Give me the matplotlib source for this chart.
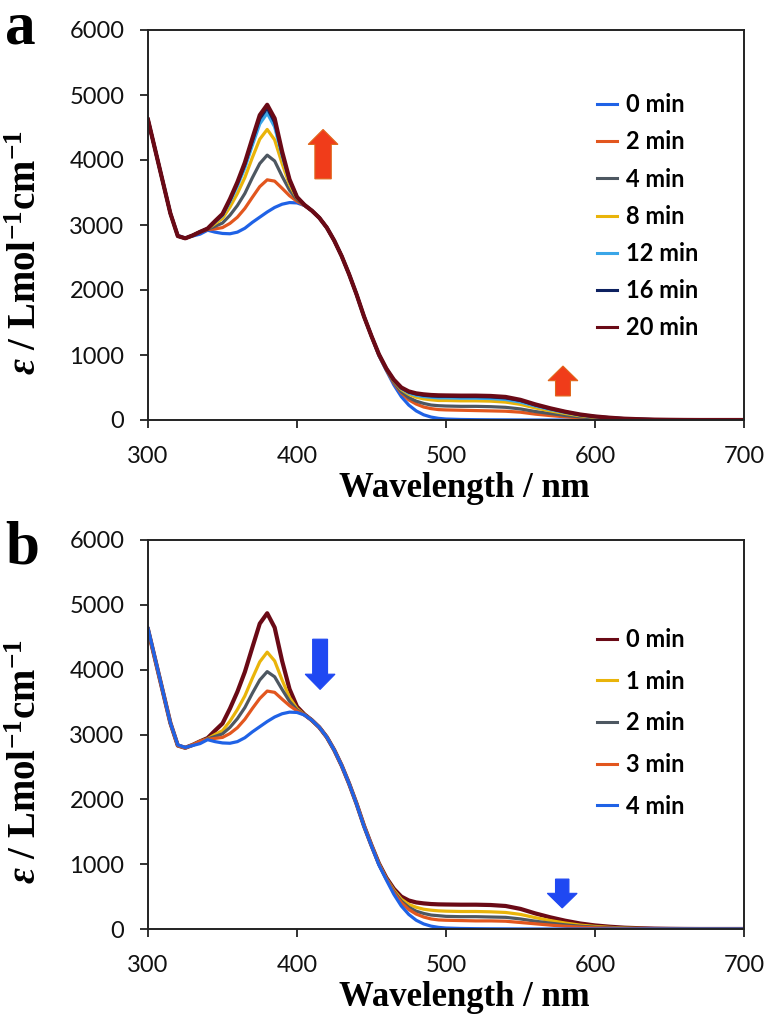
import matplotlib
matplotlib.use("Agg")
import matplotlib.pyplot as plt
from matplotlib.patches import FancyArrow

# ---------------- data ----------------
wavelength = [300, 305, 310, 315, 320, 325, 330, 335, 340, 345, 350, 355, 360, 365, 370, 375,
              380, 385, 390, 395, 400, 405, 410, 415, 420, 425, 430, 435, 440, 445, 450, 455,
              460, 465, 470, 475, 480, 485, 490, 495, 500, 510, 520, 530, 540, 550, 560, 570,
              580, 590, 600, 610, 620, 630, 640, 650, 660, 670, 680, 690, 700]

# panel a (irradiation, increasing)
a_0min = [4620, 4140, 3660, 3180, 2840, 2800, 2830, 2860, 2920, 2890, 2870, 2865, 2890, 2950, 3040, 3120,
          3200, 3270, 3320, 3345, 3340, 3300, 3220, 3110, 2960, 2760, 2520, 2240, 1930, 1590, 1290, 990,
          760, 540, 360, 230, 140, 80, 45, 25, 15, 8, 5, 3, 2, 1, 0, 0,
          0, 0, 0, 0, 0, 0, 0, 0, 0, 0, 0, 0, 0]
a_2min = [4620, 4140, 3660, 3180, 2830, 2795, 2840, 2895, 2930, 2940, 2960, 3025, 3120, 3255, 3425, 3590,
          3695, 3675, 3565, 3450, 3365, 3300, 3220, 3110, 2960, 2760, 2520, 2240, 1930, 1590, 1290, 995,
          770, 570, 415, 310, 245, 200, 175, 160, 155, 150, 145, 140, 135, 120, 90, 68,
          49, 32, 21, 13, 8, 5, 2, 1, 0, 0, 0, 0, 0]
a_4min = [4620, 4140, 3660, 3180, 2830, 2795, 2840, 2895, 2935, 2980, 3030, 3150, 3300, 3485, 3725, 3945,
          4075, 3985, 3750, 3535, 3390, 3305, 3220, 3110, 2960, 2760, 2520, 2240, 1930, 1590, 1290, 1000,
          775, 585, 435, 345, 290, 255, 230, 220, 215, 210, 210, 205, 195, 170, 130, 100,
          70, 47, 30, 19, 11, 7, 3, 2, 1, 0, 0, 0, 0]
a_8min = [4620, 4140, 3660, 3180, 2830, 2795, 2840, 2895, 2940, 3020, 3100, 3275, 3485, 3730, 4035, 4320,
          4470, 4310, 3945, 3620, 3410, 3310, 3220, 3110, 2960, 2760, 2520, 2240, 1930, 1590, 1290, 1005,
          785, 600, 470, 395, 350, 325, 310, 300, 300, 295, 295, 290, 275, 240, 185, 140,
          100, 65, 43, 27, 16, 9, 5, 2, 1, 0, 0, 0, 0]
a_12min = [4620, 4140, 3660, 3180, 2830, 2795, 2840, 2895, 2945, 3045, 3145, 3355, 3600, 3880, 4225, 4555,
           4720, 4510, 4065, 3670, 3425, 3310, 3220, 3110, 2960, 2760, 2520, 2240, 1930, 1590, 1290, 1005,
           785, 610, 485, 415, 380, 360, 350, 340, 340, 335, 335, 330, 315, 275, 215, 160,
           115, 75, 50, 30, 18, 11, 5, 3, 1, 0, 0, 0, 0]
a_16min = [4620, 4140, 3660, 3180, 2830, 2795, 2840, 2895, 2945, 3055, 3160, 3385, 3640, 3930, 4290, 4635,
           4800, 4580, 4105, 3690, 3430, 3310, 3220, 3110, 2960, 2760, 2520, 2240, 1930, 1590, 1290, 1010,
           790, 615, 495, 430, 400, 380, 370, 365, 365, 360, 360, 355, 340, 300, 230, 175,
           125, 80, 55, 35, 20, 12, 6, 3, 1, 0, 0, 0, 0]
a_20min = [4620, 4140, 3660, 3180, 2830, 2795, 2840, 2895, 2945, 3060, 3170, 3400, 3660, 3960, 4330, 4690,
           4850, 4640, 4130, 3700, 3430, 3310, 3220, 3110, 2960, 2760, 2520, 2240, 1930, 1590, 1290, 1010,
           790, 620, 500, 440, 410, 395, 385, 380, 378, 375, 375, 370, 355, 310, 240, 180,
           128, 85, 55, 35, 20, 12, 6, 3, 1, 0, 0, 0, 0]

# panel b (dark reversion, decreasing)
b_0min = [4620, 4140, 3660, 3180, 2830, 2795, 2840, 2895, 2945, 3060, 3170, 3400, 3660, 3965, 4340, 4710,
          4870, 4650, 4135, 3700, 3430, 3310, 3220, 3110, 2960, 2760, 2520, 2240, 1930, 1590, 1290, 1010,
          790, 620, 500, 440, 410, 395, 385, 380, 378, 375, 375, 370, 355, 310, 240, 180,
          128, 85, 55, 35, 20, 12, 6, 3, 1, 0, 0, 0, 0]
b_1min = [4620, 4140, 3660, 3180, 2830, 2795, 2840, 2895, 2935, 3000, 3060, 3205, 3385, 3595, 3865, 4120,
          4270, 4135, 3840, 3570, 3400, 3305, 3220, 3110, 2960, 2760, 2520, 2240, 1930, 1590, 1290, 1005,
          780, 600, 460, 380, 335, 305, 290, 280, 275, 270, 270, 265, 255, 225, 175, 130,
          92, 60, 40, 25, 14, 9, 4, 2, 1, 0, 0, 0, 0]
b_2min = [4620, 4140, 3660, 3180, 2830, 2795, 2840, 2895, 2930, 2970, 3010, 3110, 3245, 3415, 3635, 3840,
          3970, 3890, 3695, 3510, 3380, 3305, 3220, 3110, 2960, 2760, 2520, 2240, 1930, 1590, 1290, 1000,
          775, 580, 430, 335, 275, 240, 215, 205, 195, 190, 190, 185, 180, 155, 120, 90,
          64, 43, 28, 18, 10, 6, 3, 2, 1, 0, 0, 0, 0]
b_3min = [4620, 4140, 3660, 3180, 2830, 2795, 2840, 2895, 2925, 2940, 2955, 3015, 3105, 3235, 3400, 3555,
          3670, 3650, 3545, 3445, 3365, 3300, 3220, 3110, 2960, 2760, 2520, 2240, 1930, 1590, 1290, 995,
          770, 565, 405, 300, 230, 185, 155, 140, 135, 130, 125, 125, 120, 100, 80, 60,
          42, 28, 18, 12, 7, 4, 2, 1, 0, 0, 0, 0, 0]
b_4min = [4640, 4150, 3665, 3180, 2840, 2800, 2830, 2860, 2920, 2890, 2870, 2865, 2890, 2950, 3040, 3120,
          3200, 3270, 3320, 3345, 3340, 3300, 3220, 3110, 2960, 2760, 2520, 2240, 1925, 1580, 1280, 985,
          755, 535, 355, 225, 135, 78, 44, 25, 15, 8, 5, 3, 2, 1, 0, 0,
          0, 0, 0, 0, 0, 0, 0, 0, 0, 0, 0, 0, 0]

labels_a = ["0 min", "2 min", "4 min", "8 min", "12 min", "16 min", "20 min"]
labels_b = ["0 min", "1 min", "2 min", "3 min", "4 min"]
series_a = [a_0min, a_2min, a_4min, a_8min, a_12min, a_16min, a_20min]
series_b = [b_0min, b_1min, b_2min, b_3min, b_4min]

x_ticks = [300, 400, 500, 600, 700]
y_ticks = [0, 1000, 2000, 3000, 4000, 5000, 6000]

# ---------------- style ----------------
c_blue = "#1f62e6"
c_orange = "#e2561e"
c_gray = "#4d5761"
c_gold = "#e9b40a"
c_cyan = "#3aa6e8"
c_navy = "#0d2160"
c_maroon = "#6a0a16"
colors_a = [c_blue, c_orange, c_gray, c_gold, c_cyan, c_navy, c_maroon]
colors_b = [c_maroon, c_gold, c_gray, c_orange, c_blue]
lw_a = [2.3, 2.3, 2.3, 2.3, 2.3, 2.3, 3.0]
lw_b = [3.0, 2.3, 2.3, 2.3, 2.3]

plt.rcParams["mathtext.fontset"] = "custom"
plt.rcParams["mathtext.rm"] = "Liberation Serif:bold"
plt.rcParams["mathtext.it"] = "Liberation Serif:italic:bold"
plt.rcParams["mathtext.bf"] = "Liberation Serif:bold"

fig = plt.figure(figsize=(7.70, 10.26), dpi=100)
W, H = 770, 1026
ax_a = fig.add_axes([148 / W, 1 - 420 / H, (744 - 148) / W, 390 / H])
ax_b = fig.add_axes([148 / W, 1 - 929 / H, (744 - 148) / W, 389 / H])

serif = ["Liberation Serif", "DejaVu Serif"]
TICK_FS = 17


def style_axes(ax):
    ax.set_xlim(300, 700)
    ax.set_ylim(0, 6000)
    ax.set_xticks(x_ticks)
    ax.set_yticks(y_ticks)
    for sp in ax.spines.values():
        sp.set_linewidth(1.4)
        sp.set_color("#222222")
    ax.tick_params(direction="out", length=6, width=1.3, color="#222222")
    ax.tick_params(axis="x", pad=13)
    ax.tick_params(axis="y", pad=11)
    for lab in ax.get_xticklabels() + ax.get_yticklabels():
        lab.set_fontfamily("Lato")
        lab.set_fontsize(TICK_FS)
        lab.set_color("#111111")
    ax.set_xlabel("Wavelength / nm", family=serif, weight="bold", fontsize=25)
    ax.xaxis.set_label_coords((464 - 148) / 596, -0.133)
    ax.set_ylabel(r"$\mathit{ε}$ / Lmol$^{-1}$cm$^{-1}$", family=serif, weight="bold",
                  fontsize=28)
    ax.yaxis.set_label_coords(-0.172, 0.43)


for ax, series, labels, colors, lws in [(ax_a, series_a, labels_a, colors_a, lw_a),
                                         (ax_b, series_b, labels_b, colors_b, lw_b)]:
    for vals, lab, col, lw in zip(series, labels, colors, lws):
        ax.plot(wavelength, vals, color=col, lw=lw, label=lab, solid_joinstyle="round")
    style_axes(ax)

leg_a = ax_a.legend(loc="upper left", bbox_to_anchor=(0.738, 0.862), frameon=False,
                    prop=dict(family="Lato", weight="bold", size=17),
                    handlelength=0.85, handletextpad=0.35, labelspacing=0.6, borderaxespad=0)
leg_b = ax_b.legend(loc="upper left", bbox_to_anchor=(0.738, 0.798), frameon=False,
                    prop=dict(family="Lato", weight="bold", size=17),
                    handlelength=0.85, handletextpad=0.35, labelspacing=0.79, borderaxespad=0)
for leg in (leg_a, leg_b):
    for line in leg.get_lines():
        line.set_linewidth(2.2)

# arrows
red = "#f03c1a"
blue = "#1f48f2"
ax_a.add_patch(FancyArrow(417.5, 3710, 0, 760, width=11, head_width=20, head_length=230,
                          length_includes_head=True, color=red, ec="#e0661a", lw=0.8))
ax_a.add_patch(FancyArrow(578.5, 370, 0, 460, width=10, head_width=20, head_length=225,
                          length_includes_head=True, color=red, ec="#e0661a", lw=0.8))
ax_b.add_patch(FancyArrow(415.5, 4470, 0, -775, width=10, head_width=20, head_length=235,
                          length_includes_head=True, color=blue, ec=blue, lw=0.8))
ax_b.add_patch(FancyArrow(578.0, 770, 0, -445, width=9, head_width=20, head_length=225,
                          length_includes_head=True, color=blue, ec=blue, lw=0.8))

# panel letters
fig.text(5 / W, 1 - 43 / H, "a", family=serif, weight="bold", fontsize=44, ha="left", va="baseline")
fig.text(5 / W, 1 - 563 / H, "b", family=serif, weight="bold", fontsize=44, ha="left", va="baseline")

fig.savefig("out.png", dpi=100)
